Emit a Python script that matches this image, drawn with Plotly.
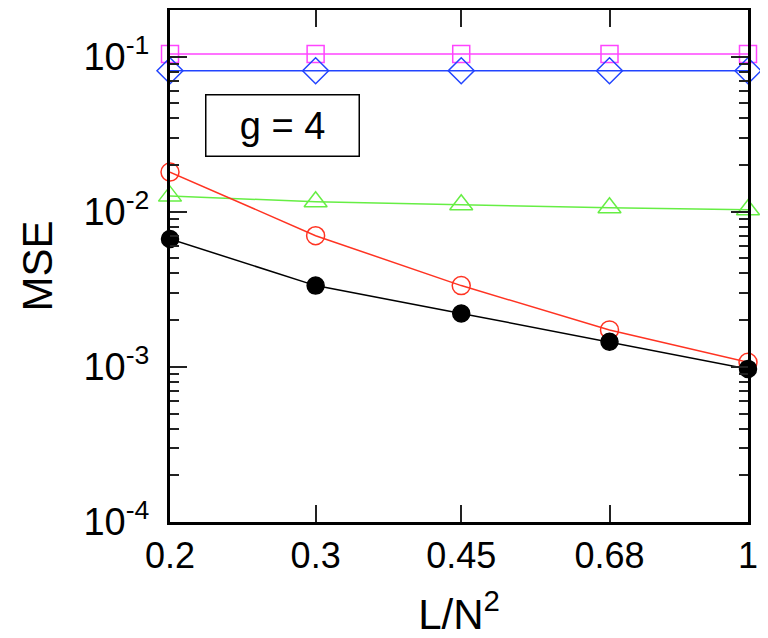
import plotly.graph_objects as go
import numpy as np

x_vals = [0.2, 0.3, 0.45, 0.68, 1.0]
x_ticktext = ["0.2", "0.3", "0.45", "0.68", "1"]

mse_magenta = [0.104, 0.104, 0.104, 0.104, 0.104]
mse_blue = [0.081, 0.081, 0.081, 0.081, 0.081]
mse_green = [0.0126, 0.0116, 0.0111, 0.0106, 0.0103]
mse_red = [0.0180, 0.0070, 0.00334, 0.00173, 0.00107]
mse_black = [0.00667, 0.00334, 0.00221, 0.00145, 0.00097]

y_tickvals = [1e-4, 1e-3, 1e-2, 1e-1]
y_ticktext = ["10<sup>-4</sup>", "10<sup>-3</sup>", "10<sup>-2</sup>", "10<sup>-1</sup>"]
y_minor = [m * d for d in (1e-4, 1e-3, 1e-2, 1e-1) for m in range(2, 10) if m * d < 0.2]

FONT = "Liberation Sans, Arial, sans-serif"

fig = go.Figure()

def add(y, color, symbol, size, filled=False):
    fig.add_trace(go.Scatter(
        x=x_vals, y=y, mode="lines+markers",
        line=dict(color=color, width=1.5),
        marker=dict(symbol=symbol if filled else symbol + "-open", size=size,
                    color=color, line=dict(color=color, width=1.5)),
        cliponaxis=False, showlegend=False,
    ))

add(mse_magenta, "#ff44ff", "square", 17)
add(mse_blue, "#2244ff", "diamond", 20)
add(mse_green, "#66ee44", "triangle-up", 20)
add(mse_red, "#ff3322", "circle", 18)
add(mse_black, "#000000", "circle", 17, filled=True)

fig.add_annotation(
    text="g = 4", xref="paper", yref="paper", x=0.1955, y=0.775,
    showarrow=False, font=dict(family=FONT, size=38, color="black"),
    bordercolor="black", borderwidth=1.5, width=150, height=58,
    xanchor="center", yanchor="middle", bgcolor="white",
)

fig.update_xaxes(
    type="log", range=[np.log10(0.2), 0], automargin=False,
    tickvals=x_vals, ticktext=x_ticktext,
    ticks="inside", ticklen=17, tickwidth=2, tickcolor="#222",
    showline=True, linewidth=3, linecolor="black", mirror="ticks",
    showgrid=False, zeroline=False,
    tickfont=dict(family=FONT, size=36, color="black"),
    title=dict(text="L/N<sup>2</sup>", font=dict(family=FONT, size=42, color="black"), standoff=25),
)
fig.update_yaxes(
    type="log", range=[-4, -0.70], automargin=False,
    tickvals=y_tickvals, ticktext=y_ticktext,
    ticks="inside", ticklen=17, tickwidth=2, tickcolor="#222",
    ticklabelstandoff=10,
    minor=dict(ticks="inside", ticklen=9, tickwidth=2, tickcolor="#222",
               tickmode="array", tickvals=y_minor, showgrid=False),
    showline=True, linewidth=3, linecolor="black", mirror="ticks",
    showgrid=False, zeroline=False,
    tickfont=dict(family=FONT, size=38, color="black"),
    title=dict(text="MSE", font=dict(family=FONT, size=42, color="black"), standoff=18),
)

fig.update_layout(
    width=768, height=638,
    margin=dict(l=162, r=28, t=2, b=124),
    paper_bgcolor="white", plot_bgcolor="white",
)

fig.write_html("out.html")
